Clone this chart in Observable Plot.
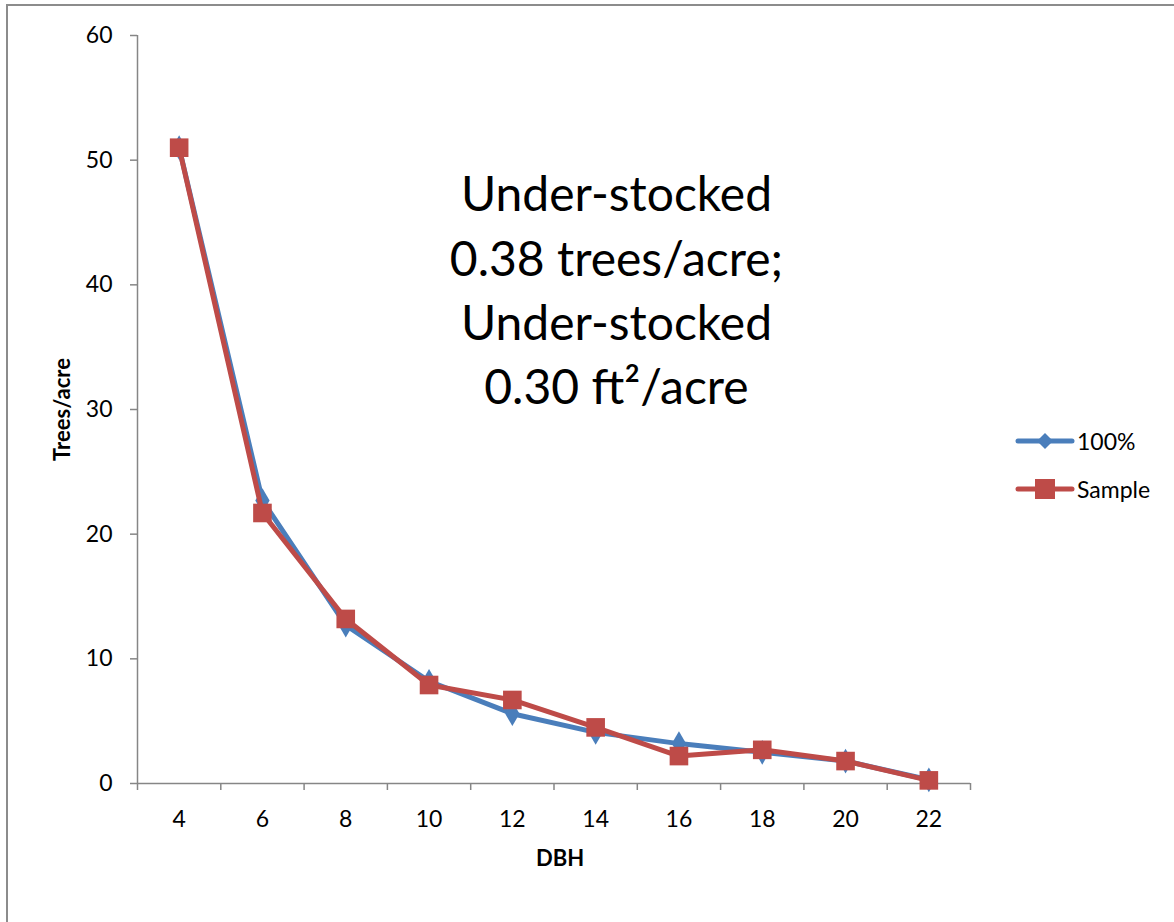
<!DOCTYPE html>
<html><head><meta charset="utf-8">
<script src="https://cdn.jsdelivr.net/npm/d3@7"></script>
<script src="https://cdn.jsdelivr.net/npm/@observablehq/plot@0.6"></script>
<style>
body{margin:0;background:#fff;overflow:hidden;}
#wrap{position:relative;width:1174px;height:922px;overflow:hidden;}
#frame{position:absolute;left:6px;top:4px;width:1300px;height:1100px;border:2px solid #8c8c8c;}
#chart{position:absolute;left:0;top:0;}
#legend{position:absolute;left:1015px;top:417px;font-family:Lato,sans-serif;font-size:23px;color:#000;}
#legend .row{display:flex;align-items:center;height:48px;}
#legend .row svg{margin-right:2px;}
</style></head><body>
<div id="wrap"><div id="frame"></div><div id="chart"></div><div id="legend"></div></div>
<script>
const dbh = [4, 6, 8, 10, 12, 14, 16, 18, 20, 22];
const full = [51.0, 22.7, 12.7, 8.2, 5.6, 4.1, 3.2, 2.5, 1.8, 0.3];
const sample = [51.0, 21.7, 13.2, 7.9, 6.7, 4.5, 2.2, 2.7, 1.8, 0.25];
const seriesNames = ["100%", "Sample"];
const seriesColors = ["#4a7ebb", "#be4b48"];
const seriesSymbols = ["diamond", "square"];
const yTicks = [0, 10, 20, 30, 40, 50, 60];
const xLabel = "DBH";
const yLabel = "Trees/acre";
const annotation = "Under-stocked\n0.38 trees/acre;\nUnder-stocked\n0.30 ft\u00b2/acre";
const annotationX = 14.5, annotationY = 39.8;

const boundaries = dbh.map(d => d - 1).concat([dbh[dbh.length - 1] + 1]);
const data = [];
dbh.forEach((d, i) => {
  data.push({dbh: d, v: full[i], s: seriesNames[0]});
  data.push({dbh: d, v: sample[i], s: seriesNames[1]});
});
const axisColor = "#868686";

const seriesMarks = seriesNames.flatMap((name, k) => {
  const rows = data.filter(r => r.s === name);
  return [
    Plot.line(rows, {x: "dbh", y: "v", stroke: seriesColors[k], strokeWidth: 5, strokeLinejoin: "round", strokeLinecap: "round"}),
    Plot.dot(rows, {x: "dbh", y: "v", fill: seriesColors[k], stroke: "none", symbol: seriesSymbols[k], r: k === 0 ? 7.5 : 10.5})
  ];
});

const chart = Plot.plot({
  width: 1174, height: 922,
  marginLeft: 137, marginRight: 204, marginTop: 35, marginBottom: 139,
  style: {fontFamily: "Lato, sans-serif", fontSize: "23px", color: "#000", background: "transparent", overflow: "visible"},
  x: {type: "linear", domain: [boundaries[0], boundaries[boundaries.length - 1]]},
  y: {domain: [yTicks[0], yTicks[yTicks.length - 1]]},
  marks: [
    Plot.axisY({ticks: yTicks, tickSize: 7, tickPadding: 18, stroke: axisColor, strokeWidth: 1.5, label: null, fontSize: 23}),
    Plot.axisX({ticks: boundaries, tickSize: 7, tickFormat: () => "", stroke: axisColor, strokeWidth: 1.5, label: null}),
    Plot.axisX({ticks: dbh, tickSize: 0, tickPadding: 27, label: null, fontSize: 23}),
    Plot.ruleX([boundaries[0]], {stroke: axisColor, strokeWidth: 1.5}),
    Plot.ruleY([yTicks[0]], {stroke: axisColor, strokeWidth: 1.5}),
    Plot.text([xLabel], {frameAnchor: "bottom", dy: 75, dx: 6, lineAnchor: "middle", fontWeight: "bold", fontSize: 22}),
    Plot.text([yLabel], {frameAnchor: "left", textAnchor: "middle", rotate: -90, dx: -75, lineAnchor: "middle", fontWeight: "bold", fontSize: 22}),
    Plot.text([{x: annotationX, y: annotationY, t: annotation}], {x: "x", y: "y", text: "t", fontSize: 48, lineHeight: 1.34, fill: "#000"}),
    ...seriesMarks
  ]
});
document.getElementById("chart").appendChild(chart);

const legend = document.getElementById("legend");
seriesNames.forEach((name, k) => {
  const row = document.createElement("div");
  row.className = "row";
  const sym = k === 0
    ? `<path d="M30,2 L38,10 L30,18 L22,10 Z" fill="${seriesColors[k]}"/>`
    : `<rect x="20" y="0" width="20" height="20" fill="${seriesColors[k]}"/>`;
  row.innerHTML = `<svg width="60" height="20"><line x1="3" y1="10" x2="57" y2="10" stroke="${seriesColors[k]}" stroke-width="5" stroke-linecap="round"/>${sym}</svg><span>${name}</span>`;
  legend.appendChild(row);
});
</script>
</body></html>
